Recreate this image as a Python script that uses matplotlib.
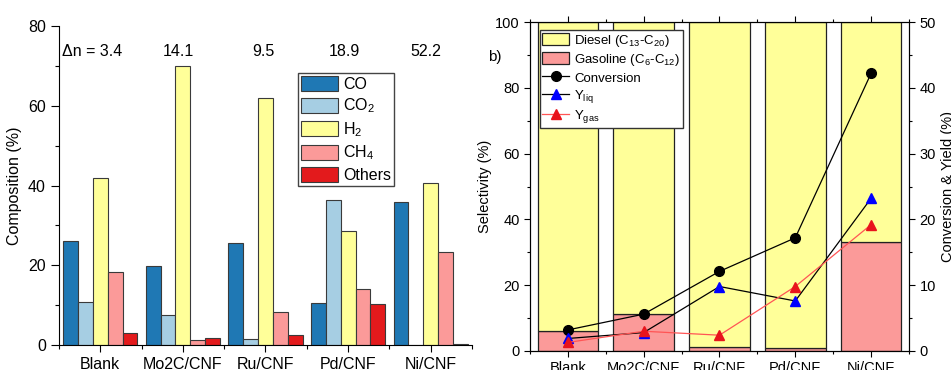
import numpy as np
import matplotlib
matplotlib.use('Agg')
import matplotlib.pyplot as plt
from matplotlib.ticker import MultipleLocator, FixedLocator

plt.rcParams['font.family'] = ['Liberation Sans', 'DejaVu Sans']
plt.rcParams['mathtext.fontset'] = 'custom'
plt.rcParams['mathtext.rm'] = 'Liberation Sans'
plt.rcParams['mathtext.it'] = 'Liberation Sans:italic'

# données
catalysts = ['Blank', 'Mo2C/CNF', 'Ru/CNF', 'Pd/CNF', 'Ni/CNF']
delta_n = ['Δn = 3.4', '14.1', '9.5', '18.9', '52.2']

co = [26.2, 19.8, 25.7, 10.5, 35.9]
co2 = [10.7, 7.4, 1.5, 36.4, 0.0]
h2 = [42.0, 70.0, 62.0, 28.6, 40.6]
ch4 = [18.3, 1.2, 8.3, 14.1, 23.3]
others = [2.9, 1.7, 2.4, 10.4, 0.3]

gasoline = [6.1, 11.1, 1.2, 0.8, 33.1]
diesel = [100 - g for g in gasoline]
conversion = [3.2, 5.6, 12.1, 17.2, 42.2]
y_liq = [1.9, 2.8, 9.8, 7.6, 23.2]
y_gas = [1.3, 3.0, 2.4, 9.8, 19.2]

gas_labels = ['CO', 'CO$_2$', 'H$_2$', 'CH$_4$', 'Others']
gas_colors = ['#1F78B4', '#A6CEE3', '#FFFF99', '#FB9A99', '#E31A1C']

fig = plt.figure(figsize=(9.51, 3.70), dpi=100)
x = np.arange(len(catalysts))

#%% panel a
ax1 = fig.add_axes([0.062, 0.0676, 0.4343, 0.862])
w = 0.18
series = [co, co2, h2, ch4, others]
for k, (vals, lab, col) in enumerate(zip(series, gas_labels, gas_colors)):
    ax1.bar(x + (k - 2) * w, vals, w, color=col, edgecolor='#3a3a3a',
            linewidth=0.8, label=lab)
ax1.set_xlim(-0.5, 4.5)
ax1.set_ylim(0, 80)
ax1.set_xticks(x)
ax1.set_xticklabels(catalysts, fontsize=11.5)
ax1.xaxis.set_minor_locator(FixedLocator(np.arange(-0.5, 5, 1)))
ax1.yaxis.set_major_locator(MultipleLocator(20))
ax1.yaxis.set_minor_locator(MultipleLocator(10))
ax1.tick_params(axis='y', labelsize=11.5, length=6, width=0.8)
ax1.tick_params(axis='x', length=5, width=0.8)
ax1.tick_params(which='minor', length=3, width=0.8)
ax1.spines['top'].set_visible(False)
ax1.spines['right'].set_visible(False)
ax1.set_ylabel('Composition (%)', fontsize=11.5, labelpad=4)
offs = [-0.1, -0.06, -0.02, -0.04, -0.06]
for i, t in enumerate(delta_n):
    ax1.text(i + offs[i], 73.5, t, ha='center', va='center', fontsize=11.5)
ax1.legend(loc='upper left', bbox_to_anchor=(0.579, 0.853), borderaxespad=0,
           fontsize=11.5, frameon=True, fancybox=False, edgecolor='#444444',
           framealpha=1, handlelength=2.3, handleheight=1.05,
           labelspacing=0.3, handletextpad=0.3, borderpad=0.2)

#%% panel b
ax2 = fig.add_axes([0.5573, 0.0514, 0.3985, 0.889])
b1 = ax2.bar(x, gasoline, 0.8, color='#FB9A99', edgecolor='#222222',
             linewidth=0.9, label='Gasoline (C$_6$-C$_{12}$)')
b2 = ax2.bar(x, diesel, 0.8, bottom=gasoline, color='#FFFF99',
             edgecolor='#222222', linewidth=0.9, label='Diesel (C$_{13}$-C$_{20}$)')
ax2.set_xlim(-0.5, 4.5)
ax2.set_ylim(0, 100)
ax2.set_xticks(x)
ax2.set_xticklabels(catalysts, fontsize=10.5)
ax2.xaxis.set_minor_locator(FixedLocator(np.arange(-0.5, 5, 1)))
ax2.yaxis.set_major_locator(MultipleLocator(20))
ax2.yaxis.set_minor_locator(MultipleLocator(10))
ax2.tick_params(axis='y', labelsize=10.5, length=4, width=0.8)
ax2.tick_params(axis='x', length=4, width=0.8, top=True)
ax2.tick_params(axis='x', which='minor', length=2.5, width=0.8, top=True)
ax2.tick_params(axis='y', which='minor', length=2.5, width=0.8)
ax2.set_ylabel('Selectivity (%)', fontsize=10.5, labelpad=2)

ax3 = ax2.twinx()
l1, = ax3.plot(x, conversion, '-o', color='black', lw=0.9, ms=7,
               label='Conversion')
l2, = ax3.plot(x, y_liq, '-', color='black', lw=0.9, marker='^', ms=7,
               mfc='blue', mec='blue', label='Y$_{\\mathrm{liq}}$')
l3, = ax3.plot(x, y_gas, '-', color='#FF5555', lw=0.9, marker='^', ms=7,
               mfc='#E8141C', mec='#E8141C', label='Y$_{\\mathrm{gas}}$')
ax3.set_ylim(0, 50)
ax3.yaxis.set_major_locator(MultipleLocator(10))
ax3.yaxis.set_minor_locator(MultipleLocator(5))
ax3.tick_params(axis='y', labelsize=10.5, length=4, width=0.8)
ax3.tick_params(axis='y', which='minor', length=2.5, width=0.8)
ax3.set_ylabel('Conversion & Yield (%)', fontsize=10.5, labelpad=4)

ax3.legend([b2, b1, l1, l2, l3],
           ['Diesel (C$_{13}$-C$_{20}$)', 'Gasoline (C$_6$-C$_{12}$)',
            'Conversion', 'Y$_{\\mathrm{liq}}$', 'Y$_{\\mathrm{gas}}$'],
           loc='upper left', bbox_to_anchor=(0.026, 0.976), borderaxespad=0,
           fontsize=9.5, frameon=True, fancybox=False, edgecolor='#333333',
           framealpha=1, handlelength=2.0, handleheight=1.0,
           labelspacing=0.25, handletextpad=0.4, borderpad=0.2)

fig.text(495 / 951, 1 - 57 / 370, 'b)', fontsize=11, ha='center', va='center')

plt.savefig('out.png', dpi=100)
